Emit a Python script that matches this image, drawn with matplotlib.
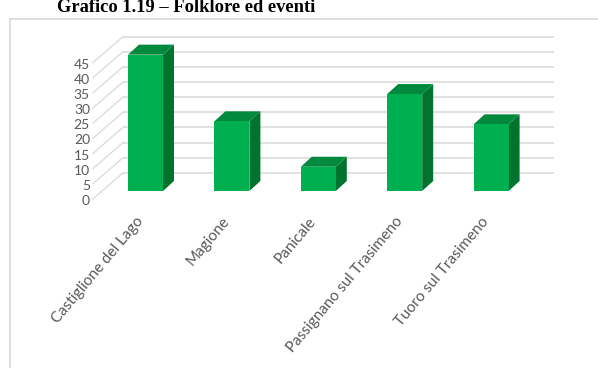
import numpy as np
import matplotlib.pyplot as plt
from matplotlib.patches import Polygon

comuni = ["Castiglione del Lago", "Magione", "Panicale",
          "Passignano sul Trasimeno", "Tuoro sul Trasimeno"]
eventi = [45, 23, 8, 32, 22]
y_ticks = [0, 5, 10, 15, 20, 25, 30, 35, 40, 45]
grid_levels = [5, 10, 15, 20, 25, 30, 35, 40, 45, 50]

W, H = 598, 368
fig = plt.figure(figsize=(W / 100, H / 100), dpi=100)
ax = fig.add_axes([0, 0, 1, 1])

# pixel scale of one category step and one value unit
step_px = 86.4
unit_px = 3.03
x0_px, base_px = 145.5, 191
ax.set_xlim(-x0_px / step_px, (W - x0_px) / step_px)
ax.set_ylim((base_px - H) / unit_px, base_px / unit_px)
ax.axis("off")


def px_x(p):
    return p / step_px


def px_y(p):
    return p / unit_px


front = "#00b050"
side = "#00742f"
top = "#01893d"
grid = "#d9d9d9"
text_col = "#595959"

x = np.arange(len(comuni))
bw = px_x(35)
ddx, ddy = px_x(11), px_y(10)

# back wall and side wall gridlines
back_lift = px_y(3)
wall_left, wall_right = px_x(123 - x0_px), px_x(554 - x0_px)
side_left = px_x(93 - x0_px)
side_drop = px_y(26)
for v in grid_levels:
    yb = v + back_lift
    ax.plot([wall_left, wall_right], [yb, yb], color=grid, lw=1.1, zorder=1,
            solid_capstyle="butt")
    ax.plot([side_left, wall_left], [yb - side_drop, yb], color=grid, lw=0.9,
            zorder=1)

# 3D-looking columns
for xi, v in zip(x, eventi):
    l, r = xi - bw / 2, xi + bw / 2
    ax.add_patch(Polygon([(r, 0), (r + ddx, ddy), (r + ddx, v + ddy), (r, v)],
                         closed=True, facecolor=side, edgecolor="none", zorder=3))
    ax.add_patch(Polygon([(l, v), (r, v), (r + ddx, v + ddy), (l + ddx, v + ddy)],
                         closed=True, facecolor=top, edgecolor="none", zorder=3))
ax.bar(x, eventi, width=bw, bottom=0, color=front, zorder=4, linewidth=0)

# value axis labels
for v in y_ticks:
    ax.text(px_x(90 - x0_px), v - px_y(10), str(v), ha="right", va="center",
            fontsize=10, color=text_col, family="Lato")

# category labels
for xi, name in zip(x, comuni):
    ax.text(xi - px_x(5), px_y(-28), name, rotation=50, rotation_mode="anchor",
            ha="right", va="center", fontsize=11, color=text_col, family="Lato")

# chart area border
border_top = 1 - 19 / H
fig.add_artist(plt.Line2D([10 / W, 10 / W], [0, border_top], color="#d9d9d9",
                          lw=1.2, transform=fig.transFigure))
fig.add_artist(plt.Line2D([10 / W, 1], [border_top, border_top], color="#d9d9d9",
                          lw=1.2, transform=fig.transFigure))

fig.text(57 / W, 1 - 12 / H, "Grafico 1.19 – Folklore ed eventi", ha="left",
         va="baseline", fontsize=13.3, fontweight="bold", family="Liberation Serif",
         color="black")

fig.savefig("out.png", dpi=100)
